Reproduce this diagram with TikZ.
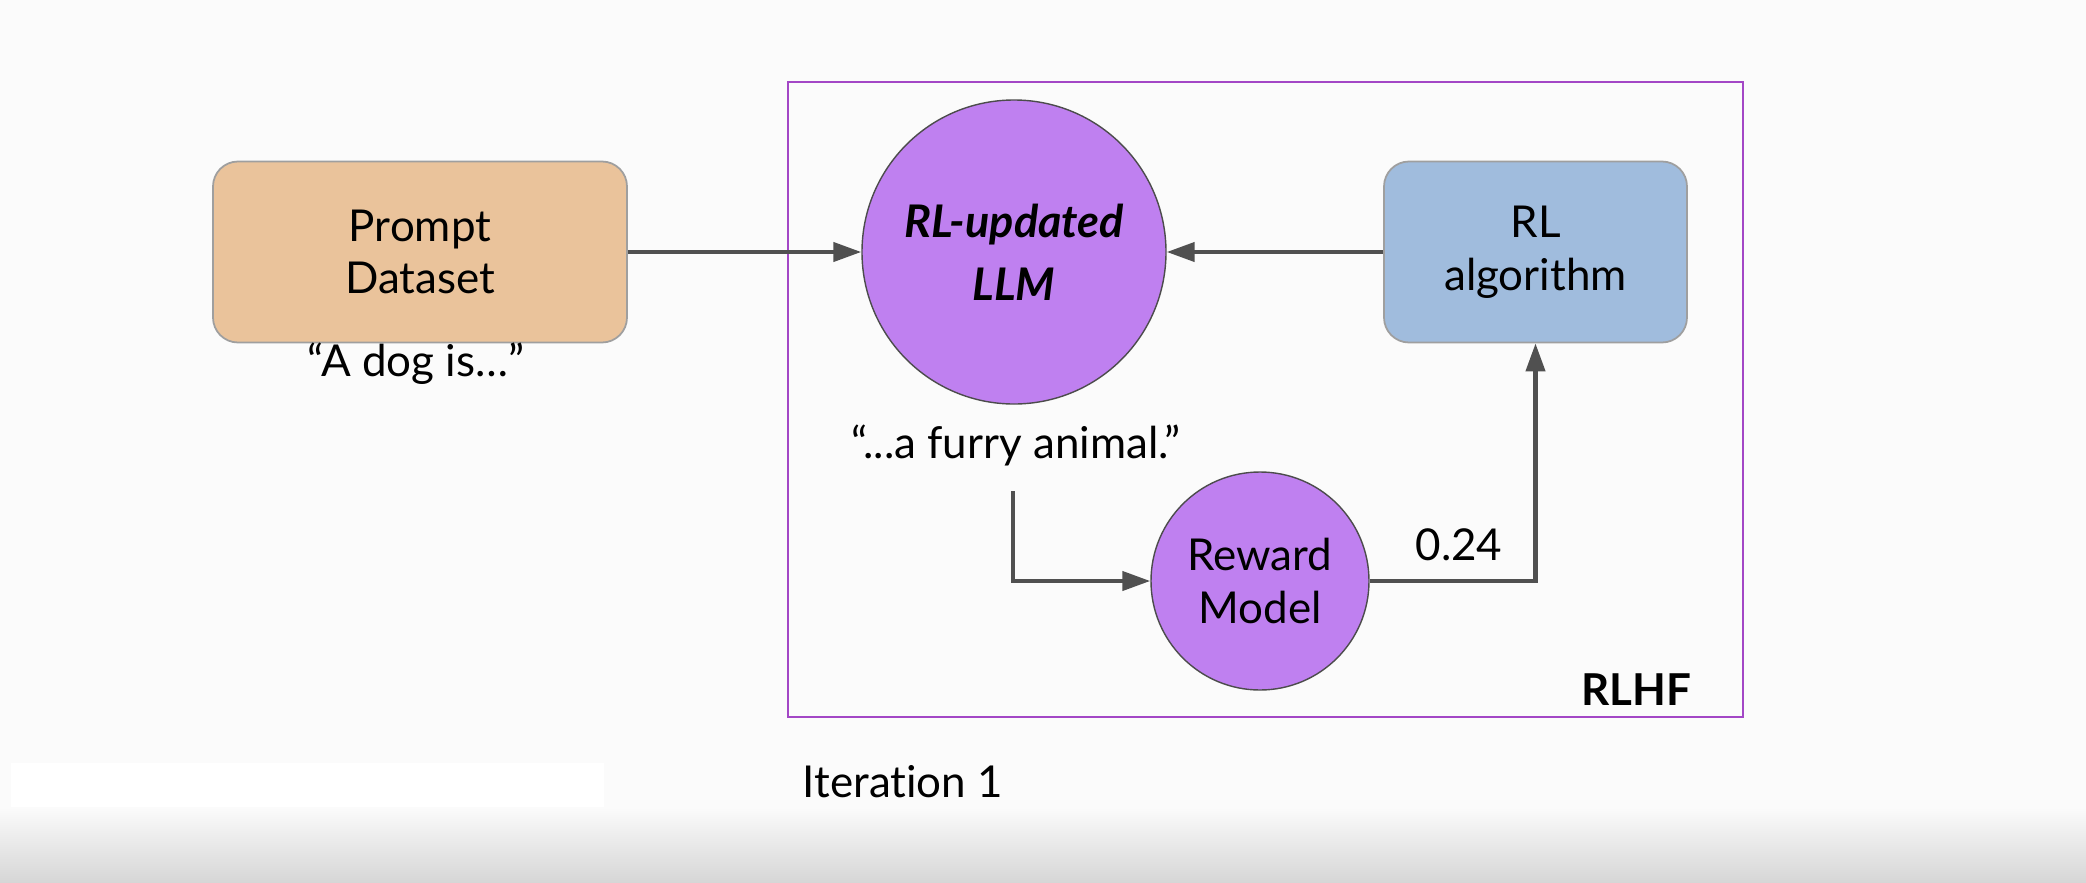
\documentclass[tikz,border=0pt]{standalone}
\usepackage{fontspec}
\setmainfont{Lato}[RawFeature={-liga;-dlig;-calt;-clig}]
\usetikzlibrary{arrows.meta}
\definecolor{bgpaper}{HTML}{FBFBFB}
\definecolor{promptfill}{HTML}{EAC39B}
\definecolor{algofill}{HTML}{A0BCDD}
\definecolor{llmfill}{HTML}{BF80F0}
\definecolor{framecol}{HTML}{A347C6}
\definecolor{linkgray}{HTML}{505050}
\begin{document}
\begin{tikzpicture}[
		box/.style={draw=gray!75,line width=0.5pt,rounded corners=0.25cm,inner sep=0pt,align=center,font=\fontsize{12.5}{15}\selectfont},
		ball/.style={draw=gray!60!black,line width=0.4pt,circle,fill=llmfill,inner sep=0pt,align=center},
		link/.style={-{Triangle[length=0.28cm,width=0.19cm]},draw=linkgray,line width=1.2pt},
		lbl/.style={font=\fontsize{12.5}{15}\selectfont}
	]
	\useasboundingbox (0,0) rectangle (20.86,8.82);
	\fill[bgpaper] (0,0) rectangle (20.86,8.82);
	\fill[white] (0.11,0) rectangle (6.04,1.19);
	\shade[top color=bgpaper,bottom color=gray!32] (0,0) rectangle (20.86,0.75);
	%
	\draw[framecol,line width=0.7pt] (7.88,8.00) rectangle (17.43,1.65);
	%
	\node[box,fill=promptfill,minimum width=4.14cm,minimum height=1.81cm] (prompt) at (4.20,6.30) {Prompt\\Dataset};
	\node[box,fill=algofill,minimum width=3.03cm,minimum height=1.81cm] (algo) at (15.355,6.30) {RL\\algorithm};
	\node[ball,minimum size=3.04cm,font=\fontsize{12.8}{18}\selectfont\bfseries\itshape] (llm) at (10.14,6.30) {RL-updated\\LLM};
	\node[ball,minimum size=2.18cm,font=\fontsize{12.5}{15}\selectfont] (reward) at (12.60,3.01) {Reward\\Model};
	%
	\node[lbl] (dog) at (4.16,5.18) {“A dog is…”};
	\node[lbl] (furry) at (10.16,4.37) {“...a furry animal.”};
	\node[lbl] (score) at (14.59,3.37) {0.24};
	\node[lbl,font=\fontsize{12.5}{15}\selectfont\bfseries] (rlhf) at (16.36,1.92) {RLHF};
	\node[lbl] (iter) at (9.03,1.00) {Iteration 1};
	\coordinate (tap) at (10.13,3.91);
	%
	\draw[link] (prompt) -- (llm);
	\draw[link] (algo) -- (llm);
	\draw[link] (tap) |- (reward);
	\draw[link] (reward) -| (algo);
\end{tikzpicture}
\end{document}
